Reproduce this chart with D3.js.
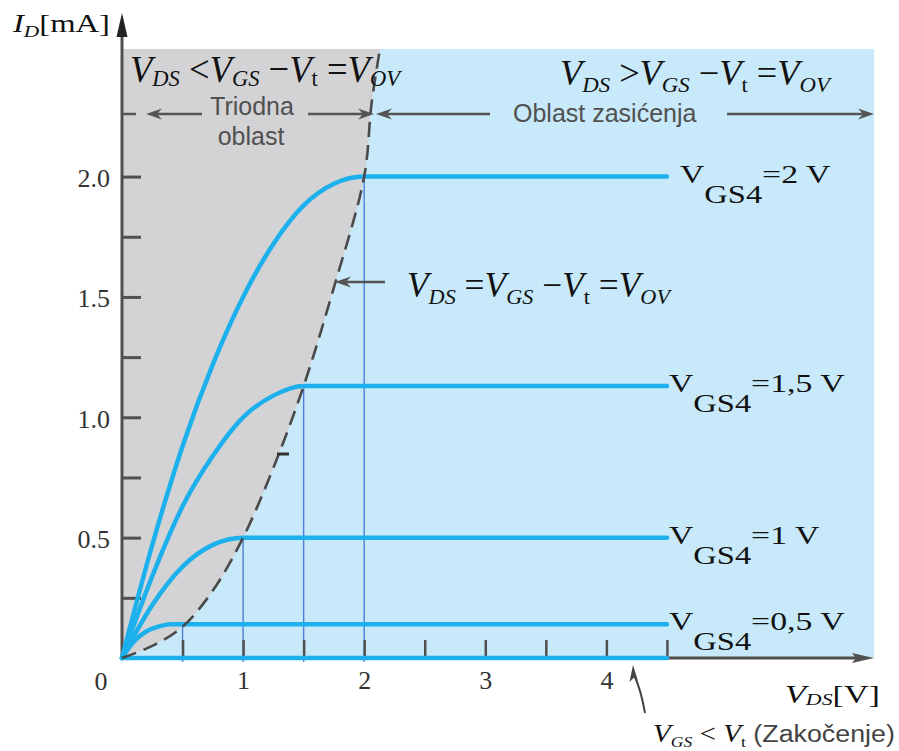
<!DOCTYPE html>
<html>
<head>
<meta charset="utf-8">
<script src="https://cdn.jsdelivr.net/npm/d3@7"></script>
<style>
  body { margin: 0; background: #fff; }
  svg { display: block; }
</style>
</head>
<body>
<svg id="chart" width="899" height="751"></svg>
<script>
// Output characteristics of an n-channel MOSFET: I_D versus V_DS for several overdrive voltages.

// Axis extents (V_DS in volts, I_D in mA)
const vdsMax = 6.21;
const idMax = 2.53;

// Drain-current curves, [V_DS, I_D] pairs: triode rise then flat saturation
const curveVov2  = [[0,0],[0.25,0.47],[0.5,0.88],[0.75,1.22],[1,1.5],[1.25,1.72],[1.5,1.88],[1.75,1.97],[2,2.0],[4.5,2.0]];
const curveVov15 = [[0,0],[0.25,0.34],[0.5,0.63],[0.75,0.84],[1,1.0],[1.25,1.09],[1.5,1.13],[4.5,1.13]];
const curveVov1  = [[0,0],[0.25,0.22],[0.5,0.38],[0.75,0.47],[1,0.5],[4.5,0.5]];
const curveVov05 = [[0,0],[0.1,0.07],[0.2,0.11],[0.3,0.13],[0.4,0.14],[0.5,0.14],[4.5,0.14]];
const curveCutoff = [[0,0],[4.5,0]];

// Knee points (edge of saturation) for each curve
const kneeVds = [2, 1.5, 1, 0.5];
const kneeId  = [2.0, 1.13, 0.5, 0.14];
const gsValues = ["2 V", "1,5 V", "1 V", "0,5 V"];

// Triode / saturation boundary V_DS = V_GS - V_t
const boundary = [[0,0],[0.25,0.05],[0.5,0.13],[0.75,0.28],[1,0.5],[1.25,0.79],[1.5,1.13],[1.75,1.54],[2,2.0],[2.06,2.3],[2.13,2.53]];

// Ticks
const yTickValues = [0.25,0.5,0.75,1.0,1.25,1.5,1.75,2.0];
const yTickLabels = ["0.5","1.0","1.5","2.0"];
const yLabelled = [0.5,1.0,1.5,2.0];
const xTickValues = [0.5,1,1.5,2,2.5,3,3.5,4,4.5];
const xTickLabels = ["1","2","3","4"];
const xLabelled = [1,2,3,4];

const svg = d3.select("#chart");
const x = d3.scaleLinear().domain([0, vdsMax]).range([122, 874]);
const y = d3.scaleLinear().domain([0, idMax]).range([658, 49]);

const SERIF = "'Liberation Serif','Times New Roman',serif";
const SANS = "'Liberation Sans',Arial,sans-serif";
const AXIS = "#505050";

// Saturation region background
svg.append("rect")
  .attr("x", x(0)).attr("y", y(idMax))
  .attr("width", x(vdsMax) - x(0)).attr("height", y(0) - y(idMax))
  .attr("fill", "#c7e9f9");

// Triode region (left of the boundary)
const bLine = d3.line().x(d => x(d[0])).y(d => y(d[1])).curve(d3.curveCatmullRom.alpha(0.5));
svg.append("path")
  .attr("d", bLine(boundary) + `L${x(0)},${y(idMax)}Z`)
  .attr("fill", "#d3d3d5");

// Thin guide lines from the V_DS axis up to each knee
svg.selectAll("line.guide").data(kneeVds).join("line")
  .attr("class", "guide")
  .attr("x1", d => x(d)).attr("x2", d => x(d))
  .attr("y1", y(0) + 4).attr("y2", (d, i) => y(kneeId[i]))
  .attr("stroke", "#4f7fdc").attr("stroke-width", 1.4);

// Axes
const yAxis = d3.axisLeft(y).tickValues(yTickValues)
  .tickSizeInner(-19).tickSizeOuter(0).tickPadding(12)
  .tickFormat(d => { const k = yLabelled.indexOf(d); return k >= 0 ? yTickLabels[k] : ""; });
const gy = svg.append("g").attr("transform", `translate(${x(0)},0)`).call(yAxis);
gy.select(".domain").remove();
gy.selectAll(".tick line").attr("stroke", AXIS).attr("stroke-width", 3);
gy.selectAll(".tick text").attr("font-family", SERIF).attr("font-size", 26)
  .attr("fill", "#333").attr("dy", "0.38em");

const xAxis = d3.axisBottom(x).tickValues(xTickValues)
  .tickSizeInner(-18).tickSizeOuter(0).tickPadding(13)
  .tickFormat(d => { const k = xLabelled.indexOf(d); return k >= 0 ? xTickLabels[k] : ""; });
const gx = svg.append("g").attr("transform", `translate(0,${y(0)})`).call(xAxis);
gx.select(".domain").remove();
gx.selectAll(".tick line").attr("stroke", AXIS).attr("stroke-width", 2.5);
gx.selectAll(".tick text").attr("font-family", SERIF).attr("font-size", 26).attr("fill", "#333");

// Origin label
svg.append("text").attr("x", 101).attr("y", 690).attr("text-anchor", "middle")
  .attr("font-family", SERIF).attr("font-size", 26).attr("fill", "#333").text("0");

// Axis lines with arrowheads
svg.append("line").attr("x1", x(0)).attr("y1", y(0) + 1.5).attr("x2", x(0)).attr("y2", 30)
  .attr("stroke", AXIS).attr("stroke-width", 3);
svg.append("path").attr("d", `M${x(0)},13 L${x(0) + 5.5},37 L${x(0) - 5.5},37Z`).attr("fill", "#222");
svg.append("line").attr("x1", x(0)).attr("y1", y(0)).attr("x2", 860).attr("y2", y(0))
  .attr("stroke", AXIS).attr("stroke-width", 3);
svg.append("path").attr("d", `M874,${y(0)} L852,${y(0) - 5} L856,${y(0)} L852,${y(0) + 5}Z`).attr("fill", AXIS);

// Drain-current curves
const cLine = d3.line().x(d => x(d[0])).y(d => y(d[1])).curve(d3.curveMonotoneX);
svg.selectAll("path.curve").data([curveVov2, curveVov15, curveVov1, curveVov05, curveCutoff]).join("path")
  .attr("class", "curve")
  .attr("d", cLine)
  .attr("fill", "none").attr("stroke", "#1cb0ec").attr("stroke-width", 4.5)
  .attr("stroke-linecap", "round");

// Boundary curve, dashed
svg.append("path").attr("d", bLine(boundary))
  .attr("fill", "none").attr("stroke", "#4a4a4a").attr("stroke-width", 2.6)
  .attr("stroke-dasharray", "15,8");
// small mark on the boundary
svg.append("line").attr("x1", 277).attr("x2", 289).attr("y1", 454).attr("y2", 454)
  .attr("stroke", "#333").attr("stroke-width", 3);

// Arrow helper: line from (x1,y1) to tip (x2,y2)
function arrow(x1, y1, x2, y2, color) {
  const a = Math.atan2(y2 - y1, x2 - x1);
  const L = 16, W = 5.5, N = 11;
  const p = (d, w) => [x2 - d * Math.cos(a) - w * Math.sin(a), y2 - d * Math.sin(a) + w * Math.cos(a)];
  const bx = p(N, 0);
  svg.append("line").attr("x1", x1).attr("y1", y1).attr("x2", bx[0]).attr("y2", bx[1])
    .attr("stroke", color).attr("stroke-width", 2.5);
  const l = p(L, W), r = p(L, -W), n = p(N, 0);
  svg.append("path").attr("d", `M${x2},${y2}L${l}L${n}L${r}Z`).attr("fill", color);
}

// Region markers
const GREY = "#555";
svg.append("line").attr("x1", 122).attr("x2", 136).attr("y1", 114).attr("y2", 114)
  .attr("stroke", GREY).attr("stroke-width", 2.5);
arrow(202, 114, 146, 114, GREY);
arrow(308, 114, 374, 114, GREY);
arrow(490, 114, 376, 114, GREY);
arrow(727, 114, 874, 114, GREY);
arrow(385, 282, 335, 282, GREY);

svg.append("text").attr("x", 252).attr("y", 115).attr("text-anchor", "middle")
  .attr("font-family", SANS).attr("font-size", 25).attr("fill", "#505050").text("Triodna");
svg.append("text").attr("x", 251).attr("y", 145).attr("text-anchor", "middle")
  .attr("font-family", SANS).attr("font-size", 25).attr("fill", "#505050").text("oblast");
svg.append("text").attr("x", 513).attr("y", 122)
  .attr("font-family", SANS).attr("font-size", 25).attr("fill", "#505050").text("Oblast zasićenja");

// Rich text: parts are [string, kind]; kind i = italic, r = roman, si/sr = subscript, s = sans
function rich(px, py, parts, o) {
  const g = svg.append("g");
  const t = g.append("text").attr("font-family", SERIF).attr("fill", o.fill || "#111");
  let sub = false;
  parts.forEach(([s, k]) => {
    const isSub = k === "si" || k === "sr";
    const ts = t.append("tspan").text(s);
    if (isSub !== sub) { ts.attr("dy", isSub ? o.subDy : -o.subDy); sub = isSub; }
    ts.attr("font-size", isSub ? o.sub : (k === "s" ? o.sans : o.main))
      .attr("font-style", (k === "i" || k === "si") ? "italic" : "normal");
    if (k === "s") ts.attr("font-family", SANS).attr("fill", o.sansFill || "#444");
  });
  const w = t.node().getComputedTextLength();
  const sx = o.width ? o.width / w : (o.sx || 1);
  g.attr("transform", `translate(${px},${py}) scale(${sx},1)`);
  return g;
}

const fLeft  = [["V","i"],["DS","si"],[" <","r"],["V","i"],["GS","si"],[" \u2212","r"],["V","i"],["t","sr"],[" =","r"],["V","i"],["OV","si"]];
const fRight = [["V","i"],["DS","si"],[" >","r"],["V","i"],["GS","si"],[" \u2212","r"],["V","i"],["t","sr"],[" =","r"],["V","i"],["OV","si"]];
const fMid   = [["V","i"],["DS","si"],[" =","r"],["V","i"],["GS","si"],[" \u2212","r"],["V","i"],["t","sr"],[" =","r"],["V","i"],["OV","si"]];
const fOpts = { main: 35, sub: 22, subDy: 7 };
rich(130, 82, fLeft, { main: 39, sub: 24, subDy: 4, width: 270 });
rich(560, 85, fRight, { ...fOpts, width: 270 });
rich(407, 297, fMid, { ...fOpts, width: 263 });

// Axis titles
rich(13, 32, [["I","i"],["D","si"],["[mA]","r"]], { main: 26, sub: 17, subDy: 5, width: 97 });
rich(785, 703, [["V","i"],["DS","si"],["[V]","r"]], { main: 25, sub: 16, subDy: 2, width: 95 });

// Cut-off annotation
rich(653, 742, [["V","i"],["GS","si"],[" < ","r"],["V","i"],["t","sr"],[" (Zakočenje)","s"]],
  { main: 25, sub: 15, subDy: 5, sans: 23, width: 242 });
svg.append("path").attr("d", "M645,713 Q641,690 634.5,676").attr("fill", "none")
  .attr("stroke", "#444").attr("stroke-width", 2);
svg.append("path").attr("d", "M633,665 L638,681 L634.5,677 L629.5,682Z").attr("fill", "#444");

// Curve labels
const labelDx = [13, 2, 2, 2];
gsValues.forEach((v, i) => {
  rich(x(4.5) + labelDx[i], y(kneeId[i]) + 6,
    [["V","r"],["GS4","sr"],["=" + v,"r"]],
    { main: 26, sub: 25, subDy: 20, sx: 1.3, fill: "#111" });
});
</script>
</body>
</html>
